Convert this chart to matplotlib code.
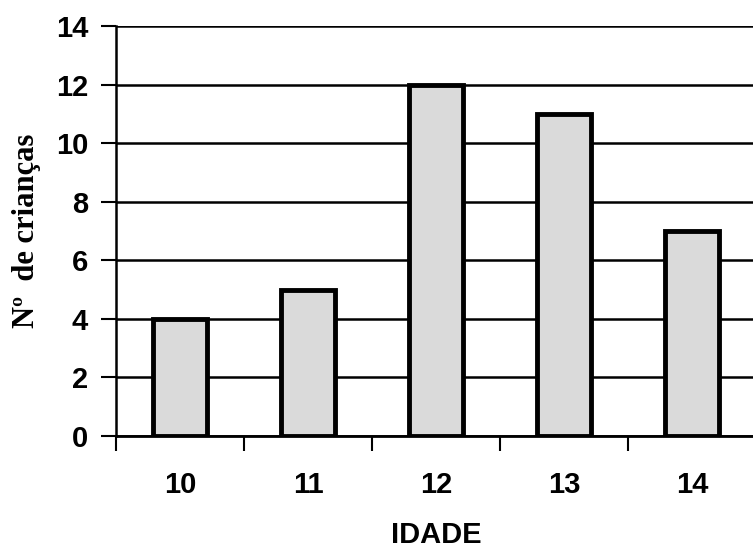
import matplotlib
matplotlib.use("Agg")
import matplotlib.pyplot as plt
import numpy as np

idades = ["10", "11", "12", "13", "14"]
criancas = [4, 5, 12, 11, 7]
yticks = [0, 2, 4, 6, 8, 10, 12, 14]

W, H = 753, 548
fig = plt.figure(figsize=(W / 100, H / 100), dpi=100)
ax = fig.add_axes([116 / W, 112 / H, (756 - 116) / W, (436 - 26) / H])

x = np.arange(len(idades))
ax.bar(x, criancas, width=0.42, color="#dadada", edgecolor="black",
       linewidth=3.5, zorder=3)

ax.set_xlim(-0.5, len(idades) - 0.5)
ax.set_ylim(0, 14)
ax.set_yticks(yticks)
ax.set_yticklabels([str(v) for v in yticks], fontfamily="Liberation Sans",
                   fontweight="bold", fontsize=21)
ax.yaxis.grid(True, color="black", linewidth=1.8, zorder=1)
ax.set_axisbelow(True)

ax.set_xticks(np.arange(len(idades) + 1) - 0.5)
ax.set_xticklabels([])
ax.set_xticks(x, minor=True)
ax.set_xticklabels(idades, minor=True, fontfamily="Liberation Sans",
                   fontweight="bold", fontsize=21)
ax.tick_params(axis="x", which="minor", length=0, pad=25)
ax.tick_params(axis="x", which="major", direction="out", length=11, width=1.5)
ax.tick_params(axis="y", direction="out", length=11, width=1.5, pad=9)

for s in ["top", "right"]:
    ax.spines[s].set_visible(False)
ax.spines["left"].set_linewidth(1.8)
ax.spines["bottom"].set_linewidth(2.0)

ax.set_xlabel("IDADE", fontfamily="Liberation Sans", fontweight="bold",
              fontsize=21, labelpad=16)
ax.set_ylabel("Nº  de crianças", fontfamily="Liberation Serif",
              fontweight="bold", fontsize=22, labelpad=11)

fig.savefig("out.png", dpi=100)
